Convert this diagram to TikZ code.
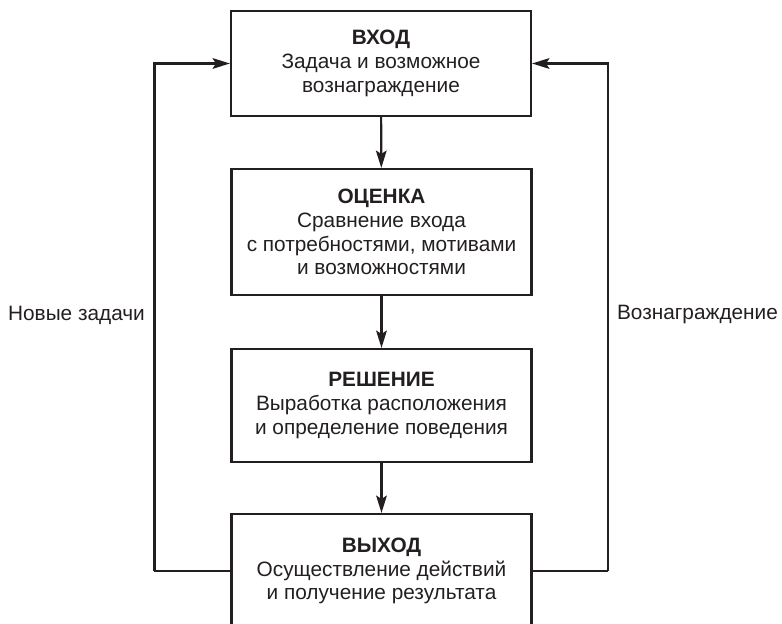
\documentclass[tikz,border=0pt]{standalone}
\usepackage{fontspec}
\setmainfont{Liberation Sans}
\usetikzlibrary{arrows.meta}
\definecolor{ink}{HTML}{231F20}

\begin{document}
\begin{tikzpicture}[x=0.75pt,y=0.75pt,yscale=-1,xscale=1,
	every node/.style={text=ink,font=\fontsize{15.6}{17.8}\selectfont},
	stagebox/.style={draw=ink,line width=1.6pt,align=center,minimum width=225pt,inner sep=0pt},
	flow/.style={draw=ink,line width=1.6pt,-{Stealth[length=13pt,width=8pt,inset=2.5pt]}},
	loopline/.style={draw=ink,line width=1.6pt}]
	\useasboundingbox (0,0) rectangle (782,624);

	% Text Node
	\node (vhod) [stagebox,minimum height=78.75pt] at (381,63.5) {\textbf{ВХОД}\\Задача и возможное\\вознаграждение};
	% Text Node
	\node (ocenka) [stagebox,minimum height=94.5pt] at (381.5,232) {\textbf{ОЦЕНКА}\\Сравнение входа\\с потребностями, мотивами\\и возможностями};
	% Text Node
	\node (reshenie) [stagebox,minimum height=84.75pt] at (381.5,405.5) {\textbf{РЕШЕНИЕ}\\Выработка расположения\\и определение поведения};
	% Text Node
	\node (vyhod) [stagebox,minimum height=85.5pt] at (381.5,571) {\textbf{ВЫХОД}\\Осуществление действий\\и получение результата};
	% Text Node
	\node (novye) at (76.5,315) {Новые задачи};
	% Text Node
	\node (nagrada) at (697.5,315) {Вознаграждение};

	% Connection
	\draw [flow] (vhod) -- (ocenka);
	% Connection
	\draw [flow] (ocenka) -- (reshenie);
	% Connection
	\draw [flow] (reshenie) -- (vyhod);
	% Connection
	\draw [loopline] (vyhod.west) -- ++(-76,0) coordinate (lbot);
	\draw [flow] (lbot) |- (vhod.west);
	% Connection
	\draw [loopline] (vyhod.east) -- ++(75.5,0) coordinate (rbot);
	\draw [flow] (rbot) |- (vhod.east);

\end{tikzpicture}
\end{document}
